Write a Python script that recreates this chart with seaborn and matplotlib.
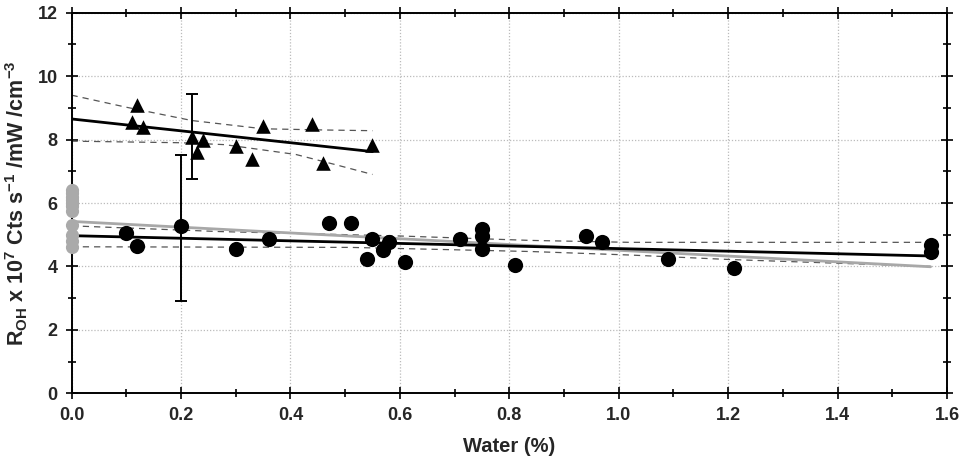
import matplotlib
matplotlib.use("Agg")
import matplotlib.pyplot as plt
from matplotlib.ticker import MultipleLocator, FormatStrFormatter
import numpy as np
import pandas as pd
import seaborn as sns

# --- data ---
tri_x = [0.11, 0.12, 0.13, 0.22, 0.23, 0.24, 0.30, 0.33, 0.35, 0.44, 0.46, 0.55]
tri_y = [8.55, 9.08, 8.40, 8.07, 7.62, 7.98, 7.80, 7.40, 8.42, 8.50, 7.25, 7.82]

circ_x = [0.10, 0.12, 0.20, 0.30, 0.36, 0.47, 0.51, 0.55, 0.54, 0.57, 0.58, 0.61,
          0.71, 0.75, 0.75, 0.75, 0.81, 0.94, 0.97, 1.09, 1.21, 1.57, 1.57]
circ_y = [5.05, 4.65, 5.26, 4.55, 4.86, 5.37, 5.37, 4.86, 4.24, 4.53, 4.77, 4.15,
          4.86, 5.18, 4.97, 4.55, 4.05, 4.97, 4.77, 4.24, 3.95, 4.68, 4.47]

gray_y = [6.4, 6.3, 6.2, 6.1, 6.0, 5.9, 5.75, 5.3, 5.0, 4.8, 4.6]

# error bars (x, centre, half-length)
err_x = [0.22, 0.20]
err_y = [8.1, 5.2]
err_h = [1.35, 2.3]

# fitted lines and confidence bands
tri_fit_x = [0.0, 0.55]
tri_fit_y = [8.65, 7.62]
tri_up_x = [0.0, 0.10, 0.22, 0.35, 0.47, 0.55]
tri_up_y = [9.40, 9.02, 8.60, 8.34, 8.30, 8.28]
tri_lo_x = [0.0, 0.20, 0.28, 0.41, 0.48, 0.55]
tri_lo_y = [7.95, 7.90, 7.84, 7.53, 7.22, 6.90]

circ_fit_x = [0.0, 1.57]
circ_fit_y = [4.97, 4.33]
gray_fit_x = [0.0, 1.57]
gray_fit_y = [5.42, 3.99]
circ_up_x = [0.0, 0.27, 0.60, 0.84, 1.02, 1.57]
circ_up_y = [5.28, 5.10, 4.96, 4.82, 4.76, 4.76]
circ_lo_x = [0.0, 0.51, 0.84, 1.02, 1.20, 1.57]
circ_lo_y = [4.62, 4.60, 4.47, 4.36, 4.22, 4.00]

sns.set_style("white")
plt.rcParams["font.family"] = ["Liberation Sans", "DejaVu Sans"]
plt.rcParams["font.weight"] = "bold"
plt.rcParams["mathtext.fontset"] = "custom"
plt.rcParams["mathtext.rm"] = "Liberation Sans:bold"
plt.rcParams["mathtext.bf"] = "Liberation Sans:bold"
plt.rcParams["mathtext.default"] = "bf"

fig = plt.figure(figsize=(9.59, 4.62), dpi=100)
ax = fig.add_axes([0.0746, 0.1487, 0.9129, 0.8238])

# grid
ax.grid(True, which="major", color="#bbbbbb", linestyle=(0, (1, 1.5)), linewidth=0.9)
ax.set_axisbelow(True)

# confidence bands
dash = (0, (5, 4))
for bx, by in [(tri_up_x, tri_up_y), (tri_lo_x, tri_lo_y),
               (circ_up_x, circ_up_y), (circ_lo_x, circ_lo_y)]:
    ax.plot(bx, by, color="#555555", lw=0.9, linestyle=dash, zorder=2)

# fit lines
sns.lineplot(x=gray_fit_x, y=gray_fit_y, ax=ax, color="#a8a8a8", lw=2.0, zorder=3)
sns.lineplot(x=circ_fit_x, y=circ_fit_y, ax=ax, color="black", lw=2.0, zorder=3)
sns.lineplot(x=tri_fit_x, y=tri_fit_y, ax=ax, color="black", lw=2.0, zorder=3)

# error bars
ax.errorbar(err_x, err_y, yerr=err_h, fmt="none", ecolor="black",
            elinewidth=1.4, capsize=4, capthick=1.4, zorder=4)

# points
sns.scatterplot(x=circ_x, y=circ_y, ax=ax, color="black", marker="o", s=120,
                edgecolor="black", linewidth=0, zorder=5)
sns.scatterplot(x=tri_x, y=tri_y, ax=ax, color="black", marker="^", s=110,
                edgecolor="black", linewidth=0, zorder=5)
gray_df = pd.DataFrame({"x": np.zeros(len(gray_y)), "y": gray_y})
sns.scatterplot(data=gray_df, x="x", y="y", ax=ax, color="#aaaaaa", marker="o",
                s=90, linewidth=0, zorder=6)
ax.collections[-1].set_clip_on(False)

ax.set_xlim(0, 1.6)
ax.set_ylim(0, 12)
ax.xaxis.set_major_locator(MultipleLocator(0.2))
ax.xaxis.set_minor_locator(MultipleLocator(0.1))
ax.xaxis.set_major_formatter(FormatStrFormatter("%.1f"))
ax.yaxis.set_major_locator(MultipleLocator(2))
ax.yaxis.set_minor_locator(MultipleLocator(1))

for s in ax.spines.values():
    s.set_color("black")
    s.set_linewidth(1.4)
ax.tick_params(which="both", direction="inout", top=True, right=True,
               bottom=True, left=True, color="black", width=1.2)
ax.tick_params(which="major", length=8, labelsize=13, pad=6)
ax.tick_params(which="minor", length=6)
for lab in ax.get_xticklabels() + ax.get_yticklabels():
    lab.set_fontweight("bold")

ax.set_xlabel("Water (%)", fontsize=14.5, fontweight="bold", labelpad=9)
ax.set_ylabel(r"R$_{OH}$ x 10$^{7}$ Cts s$^{-1}$ /mW /cm$^{-3}$",
              fontsize=15.5, fontweight="bold")
ax.yaxis.set_label_coords(-0.047, 0.5)

fig.savefig("out.png", dpi=100)
